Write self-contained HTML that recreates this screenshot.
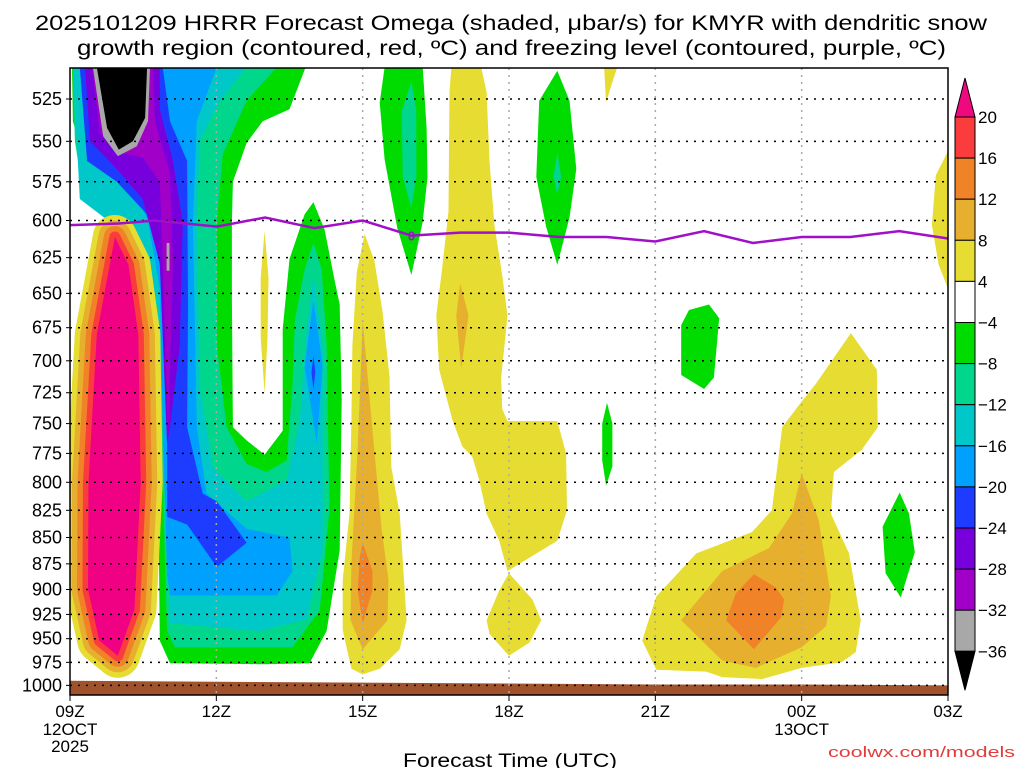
<!DOCTYPE html>
<html><head><meta charset="utf-8"><style>
html,body{margin:0;padding:0;background:#fff;}
svg{display:block;font-family:"Liberation Sans",sans-serif;}
</style></head><body>
<svg id="chart" width="1024" height="768" viewBox="0 0 1024 768" xmlns="http://www.w3.org/2000/svg">
<defs><clipPath id="plotclip"><rect x="70" y="68" width="878" height="627"/></clipPath></defs>
<g font-size="21" fill="#000">
<text x="35" y="30" textLength="952" lengthAdjust="spacingAndGlyphs">2025101209 HRRR Forecast Omega (shaded, μbar/s) for KMYR with dendritic snow</text>
<text x="77" y="55" textLength="869" lengthAdjust="spacingAndGlyphs">growth region (contoured, red, ºC) and freezing level (contoured, purple, ºC)</text>
</g>
<g id="fills" clip-path="url(#plotclip)"></g>
<g id="grid"></g>
<g id="overlay" clip-path="url(#plotclip)"></g>
<rect x="70" y="68" width="878" height="627" fill="none" stroke="#000" stroke-width="1.5"/>
<g id="yaxis" font-size="18" text-anchor="end"></g>
<g id="xaxis" font-size="17" text-anchor="middle"></g>
<text x="510" y="767" font-size="19" text-anchor="middle" textLength="214" lengthAdjust="spacingAndGlyphs">Forecast Time (UTC)</text>
<text x="1015" y="757" font-size="15" text-anchor="end" fill="#e03c3c" textLength="187" lengthAdjust="spacingAndGlyphs">coolwx.com/models</text>
<g id="cbar" font-size="17"></g>
</svg>
<script>
// ---- data (hours since 09Z 12OCT, pressure hPa) ----
const pressureTicks = [525,550,575,600,625,650,675,700,725,750,775,800,825,850,875,900,925,950,975,1000];
const timeTickHours = [0,3,6,9,12,15,18];
const timeTickLabels = ["09Z","12Z","15Z","18Z","21Z","00Z","03Z"];
const cbarLevels = [20,16,12,8,4,-4,-8,-12,-16,-20,-24,-28,-32,-36];
const cbarColors = ["#f0087f","#fa3c3c","#f08228","#e6af2d","#e6dc32","#ffffff","#00dc00","#00d68c","#00c8c8","#00a0ff","#1e3cff","#7800dc","#a000c8","#a8a8a8","#000000"];
const freezeHours = [0,1,1.74,3.01,4,5.01,6,7,8,9,10.03,11,12,13,14,15,16,17,18];
const freezePress = [603,602,600,604,598,605,600,610,608,608,611,611,614,607,615,611,611,607,612];
const sfcHours = [0,3,6,9,12,15,18];
const sfcPress = [995,996,997,998,999,999,1000];
const cG1=[[0.04,507],[4.83,507],[4.5,531],[3.95,538],[3.62,551],[3.34,575],[3.32,601],[3.32,654],[3.34,753],[3.62,764],[3.99,776],[4.36,756],[4.36,676],[4.5,626],[4.81,596],[4.99,588],[5.22,606],[5.42,640],[5.53,658],[5.57,731],[5.53,862],[5.26,942],[4.91,976],[3.99,977],[2.05,976],[1.84,952],[1.78,688],[1.64,629],[1.37,598],[0.82,583],[0.41,575],[0.06,538]];
const cT1=[[0.06,507],[4.24,507],[3.62,526],[3.13,558],[3.01,601],[3.01,688],[3.21,753],[3.62,784],[4.03,791],[4.44,781],[4.56,720],[4.61,669],[4.81,633],[4.99,615],[5.16,633],[5.26,688],[5.32,824],[5.12,921],[4.56,959],[2.15,959],[1.99,942],[1.84,720],[1.7,646],[1.37,612],[0.82,593],[0.27,583],[0.1,550]];
const cC1=[[0.06,507],[3.62,507],[3.07,526],[2.66,550],[2.6,601],[2.66,720],[2.93,787],[3.62,817],[4.44,798],[4.71,748],[4.85,676],[4.99,638],[5.18,688],[5.18,862],[4.85,930],[3.89,942],[2.05,934],[1.9,720],[1.78,658],[1.43,620],[0.82,601],[0.2,586],[0.14,550]];
const cL1=[[0.2,507],[3.01,507],[2.6,538],[2.52,601],[2.6,753],[2.8,810],[3.62,842],[4.5,850],[4.56,882],[4.24,906],[2.05,906],[1.99,885],[1.9,750],[1.84,647],[1.6,600],[1.3,580],[0.82,570],[0.35,550]];
const cL2=[[4.99,655],[5.18,704],[5.06,767],[4.81,704]];
const cB2=[[4.99,696],[5.03,709],[4.99,722],[4.95,709]];
const cB1=[[0.2,507],[1.9,507],[2.05,538],[2.4,562],[2.42,658],[2.4,753],[2.72,810],[3.01,817],[3.62,855],[3.01,878],[2.4,838],[1.99,831],[1.99,753],[1.84,629],[1.58,596],[0.96,575],[0.35,562]];
const cV1=[[0.31,507],[1.84,507],[1.84,531],[2.11,562],[2.31,601],[2.25,688],[2.05,753],[1.99,767],[1.84,629],[1.49,586],[0.96,567],[0.41,550]];
const cP1=[[0.45,507],[1.7,507],[1.74,538],[2.05,570],[2.11,629],[2.01,764],[1.9,629],[1.84,575],[1.49,560],[1.02,557],[0.61,545]];
const cGR=[[0.47,507],[1.64,507],[1.6,538],[1.37,553],[0.98,559],[0.68,547]];
const cBK=[[0.55,507],[1.58,507],[1.54,536],[1.29,550],[1.0,555],[0.76,542]];
const cGB=[[1.98,615],[2.04,615],[2.04,634],[1.98,634]];
const cMag=[[0.92,611],[0.55,680],[0.38,800],[0.37,900],[0.6,952],[0.98,968],[1.32,920],[1.45,800],[1.4,680],[1.2,630]];
const cG2=[[6.45,507],[7.23,507],[7.31,542],[7.33,572],[7.23,601],[7.0,637],[6.71,605],[6.45,561],[6.35,527]];
const cT2=[[7.0,515],[7.1,532],[7.1,572],[7.0,592],[6.82,572],[6.8,532]];
const cG3=[[9.99,509],[10.24,526],[10.38,567],[10.24,598],[9.99,630],[9.76,604],[9.56,572],[9.62,526]];
const cT3=[[9.99,557],[10.07,572],[9.99,583],[9.91,572]];
const cG4=[[12.69,662],[13.1,658],[13.31,668],[13.2,713],[13.0,722],[12.53,711],[12.53,673]];
const cG5=[[11.01,733],[11.12,750],[11.12,786],[10.99,803],[10.91,781],[10.91,750]];
const cG6=[[17.01,809],[17.2,828],[17.32,864],[17.03,908],[16.72,884],[16.66,840]];
const cY1=[[7.82,507],[8.43,507],[8.54,521],[8.6,562],[8.7,603],[8.86,637],[8.97,666],[8.84,713],[8.86,738],[8.97,748],[9.99,748],[10.17,775],[10.19,825],[9.99,853],[8.97,882],[8.8,853],[8.54,828],[8.39,798],[8.25,778],[8.04,769],[7.84,747],[7.57,707],[7.51,666],[7.62,635],[7.76,594],[7.78,521]];
const cA1=[[8.0,643],[8.17,666],[8.02,706],[7.92,666]];
const cY2=[[9.0,884],[9.48,910],[9.66,931],[9.42,954],[9.0,968],[8.6,945],[8.54,931],[8.8,901]];
const cY3=[[10.95,507],[11.22,507],[11.1,517],[10.99,527]];
const cY4=[[3.99,607],[4.07,639],[4.05,683],[3.99,725],[3.91,683],[3.91,639]];
const cY5=[[18.05,553],[17.75,571],[17.67,603],[17.81,630],[18.05,651]];
const cY6=[[6.04,609],[6.24,627],[6.41,664],[6.55,712],[6.59,787],[6.76,828],[6.9,931],[6.76,961],[6.35,982],[6.0,988],[5.77,982],[5.59,941],[5.59,891],[5.73,828],[5.77,748],[5.79,688],[5.88,635]];
const cA6=[[6.0,670],[6.2,755],[6.39,843],[6.53,891],[6.51,931],[6.0,961],[5.75,931],[5.77,875],[5.9,769]];
const cO6=[[6.0,855],[6.2,882],[6.2,901],[6.0,934],[5.9,901],[5.94,869]];
const cY7=[[16.01,679],[16.54,707],[16.56,753],[16.23,772],[15.66,791],[15.6,828],[15.97,865],[16.21,931],[16.11,964],[15.82,975],[15.0,981],[14.19,993],[13.37,991],[13.04,985],[12.02,983],[11.73,952],[12.02,907],[12.84,865],[13.98,845],[14.39,825],[14.6,753],[15.0,732],[15.29,718]];
const cA7=[[15.0,792],[15.35,834],[15.6,907],[15.5,937],[15.0,959],[14.06,981],[13.37,973],[12.53,931],[13.37,882],[14.33,860],[14.8,828]];
const cO7=[[14.02,885],[14.47,898],[14.64,910],[14.58,928],[14.02,961],[13.45,931],[13.65,904]];

// ---- axes ----
const X0=70, XW=878, HMAX=18;
function xs(h){return X0 + h*XW/HMAX;}
function ys(p){return 99 + 910*Math.log(p/525);}
const NS="http://www.w3.org/2000/svg";
function mk(tag,attrs,parent){const e=document.createElementNS(NS,tag);for(const k in attrs)e.setAttribute(k,attrs[k]);parent.appendChild(e);return e;}
function ptsStr(arr){return arr.map(d=>xs(d[0]).toFixed(1)+","+ys(d[1]).toFixed(1)).join(" ");}
const fills=document.getElementById("fills");
function poly(arr,color,name){
  const e=mk("polygon",{points:ptsStr(arr),fill:color},fills);
  
  
  return e;
}
const COL={y:"#e6dc32",a:"#e6af2d",o:"#f08228",r:"#fa3c3c",m:"#f00082",g:"#00dc00",t:"#00d68c",c:"#00c8c8",l:"#00a0ff",b:"#1e3cff",v:"#7800dc",p:"#a000c8",gr:"#a8a8a8",k:"#000000"};
poly(cG1,COL.g,"neg-omega-green");
poly(cT1,COL.t,"neg-omega-teal");
poly(cC1,COL.c,"neg-omega-cyan");
poly(cL1,COL.l,"neg-omega-lightblue");
poly(cB1,COL.b,"neg-omega-blue");
poly(cV1,COL.v,"neg-omega-violet");
poly(cP1,COL.p,"neg-omega-purple");
poly(cGR,COL.gr,"neg-omega-gray");
poly(cBK,COL.k,"neg-omega-black");
poly(cGB,COL.gr,"neg-omega-gray-bar");
poly(cL2,COL.l,"neg-omega-lightblue-lens");
poly(cB2,COL.b,"neg-omega-blue-lens");
// left positive column nested levels
[[COL.y,44],[COL.a,33],[COL.o,22],[COL.r,11]].forEach(function(s){
  const e=mk("polygon",{points:ptsStr(cMag),fill:s[0],stroke:s[0],"stroke-width":s[1],"stroke-linejoin":"round"},fills);
  
  
});
poly(cMag,COL.m,"pos-omega-magenta-core");
poly(cG2,COL.g,"neg-omega-green-16z");
poly(cT2,COL.t,"neg-omega-teal-16z");
poly(cG3,COL.g,"neg-omega-green-19z");
poly(cT3,COL.t,"neg-omega-teal-19z");
poly(cG4,COL.g,"neg-omega-green-22z");
poly(cG5,COL.g,"neg-omega-green-20z");
poly(cG6,COL.g,"neg-omega-green-02z");
poly(cY1,COL.y,"pos-omega-yellow-17z");
poly(cA1,COL.a,"pos-omega-amber-17z");
poly(cY2,COL.y,"pos-omega-yellow-18z");
poly(cY3,COL.y,"pos-omega-yellow-20z");
poly(cY4,COL.y,"pos-omega-yellow-13z");
poly(cY5,COL.y,"pos-omega-yellow-03z");
poly(cY6,COL.y,"pos-omega-yellow-15z");
poly(cA6,COL.a,"pos-omega-amber-15z");
poly(cO6,COL.o,"pos-omega-orange-15z");
poly(cY7,COL.y,"pos-omega-yellow-23z");
poly(cA7,COL.a,"pos-omega-amber-23z");
poly(cO7,COL.o,"pos-omega-orange-23z");
// ground
(function(){
  let d="M"+xs(sfcHours[0])+","+ys(sfcPress[0]);
  for(let i=1;i<sfcHours.length;i++) d+=" L"+xs(sfcHours[i])+","+ys(sfcPress[i]);
  d+=" L"+xs(HMAX)+",700 L"+X0+",700 Z";
  const e=mk("path",{d:d,fill:"#a0522d"},fills);
  
  
})();
// grid
const grid=document.getElementById("grid");
pressureTicks.forEach(function(p){
  const e=mk("line",{x1:X0,x2:X0+XW,y1:ys(p),y2:ys(p),stroke:"#000","stroke-width":1.5,"stroke-dasharray":"2 6"},grid);
  
  
});
timeTickHours.forEach(function(h){
  if(h===0||h===HMAX) return;
  const e=mk("line",{x1:xs(h),x2:xs(h),y1:68,y2:695,stroke:"#aaa","stroke-width":1.5,"stroke-dasharray":"2 5"},grid);
  
  
});
// freezing level
const ov=document.getElementById("overlay");
(function(){
  const pts=freezeHours.map((h,i)=>xs(h).toFixed(1)+","+ys(freezePress[i]).toFixed(1)).join(" ");
  const e=mk("polyline",{points:pts,fill:"none",stroke:"#a010c8","stroke-width":2.5},ov);
  
  
  const t=mk("text",{x:xs(7),y:ys(610)+5,"font-size":13,"text-anchor":"middle",fill:"#a010c8","font-weight":"bold"},ov);
  t.textContent="0";
  
  
})();
// y axis
const ya=document.getElementById("yaxis");
pressureTicks.forEach(function(p){
  const t=mk("text",{x:62,y:ys(p)+6},ya);
  t.textContent=String(p);
  
  
  const l=mk("line",{x1:66,x2:70,y1:ys(p),y2:ys(p),stroke:"#000"},ya);
  
  
});
// x axis
const xa=document.getElementById("xaxis");
timeTickHours.forEach(function(h,i){
  const t=mk("text",{x:xs(h),y:717},xa);
  t.textContent=timeTickLabels[i];
  
  
  const l=mk("line",{x1:xs(h),x2:xs(h),y1:695,y2:701,stroke:"#000"},xa);
  
  
});
[["12OCT",0,735],["2025",0,752],["13OCT",15,735]].forEach(function(s){
  const t=mk("text",{x:xs(s[1]),y:s[2]},xa);
  t.textContent=s[0];
  
  
});
// colorbar
const cb=document.getElementById("cbar");
const CBX=955, CBW=20, CBT=117, CBS=41.1;
(function(){
  let e=mk("polygon",{points:CBX+","+CBT+" "+(CBX+CBW)+","+CBT+" "+(CBX+CBW/2)+",78",fill:cbarColors[0],stroke:"#000"},cb);
  
  
  for(let i=0;i<cbarLevels.length-1;i++){
    const r=mk("rect",{x:CBX,y:CBT+i*CBS,width:CBW,height:CBS,fill:cbarColors[i+1],stroke:"#000"},cb);
    
    
  }
  const yb=CBT+(cbarLevels.length-1)*CBS;
  e=mk("polygon",{points:CBX+","+yb+" "+(CBX+CBW)+","+yb+" "+(CBX+CBW/2)+","+(yb+39),fill:cbarColors[cbarColors.length-1],stroke:"#000"},cb);
  
  
  cbarLevels.forEach(function(v,i){
    const t=mk("text",{x:978,y:CBT+i*CBS+6},cb);
    t.textContent=(v<0?"\u2212":"")+Math.abs(v);
    
    
  });
})();
</script>
</body></html>
